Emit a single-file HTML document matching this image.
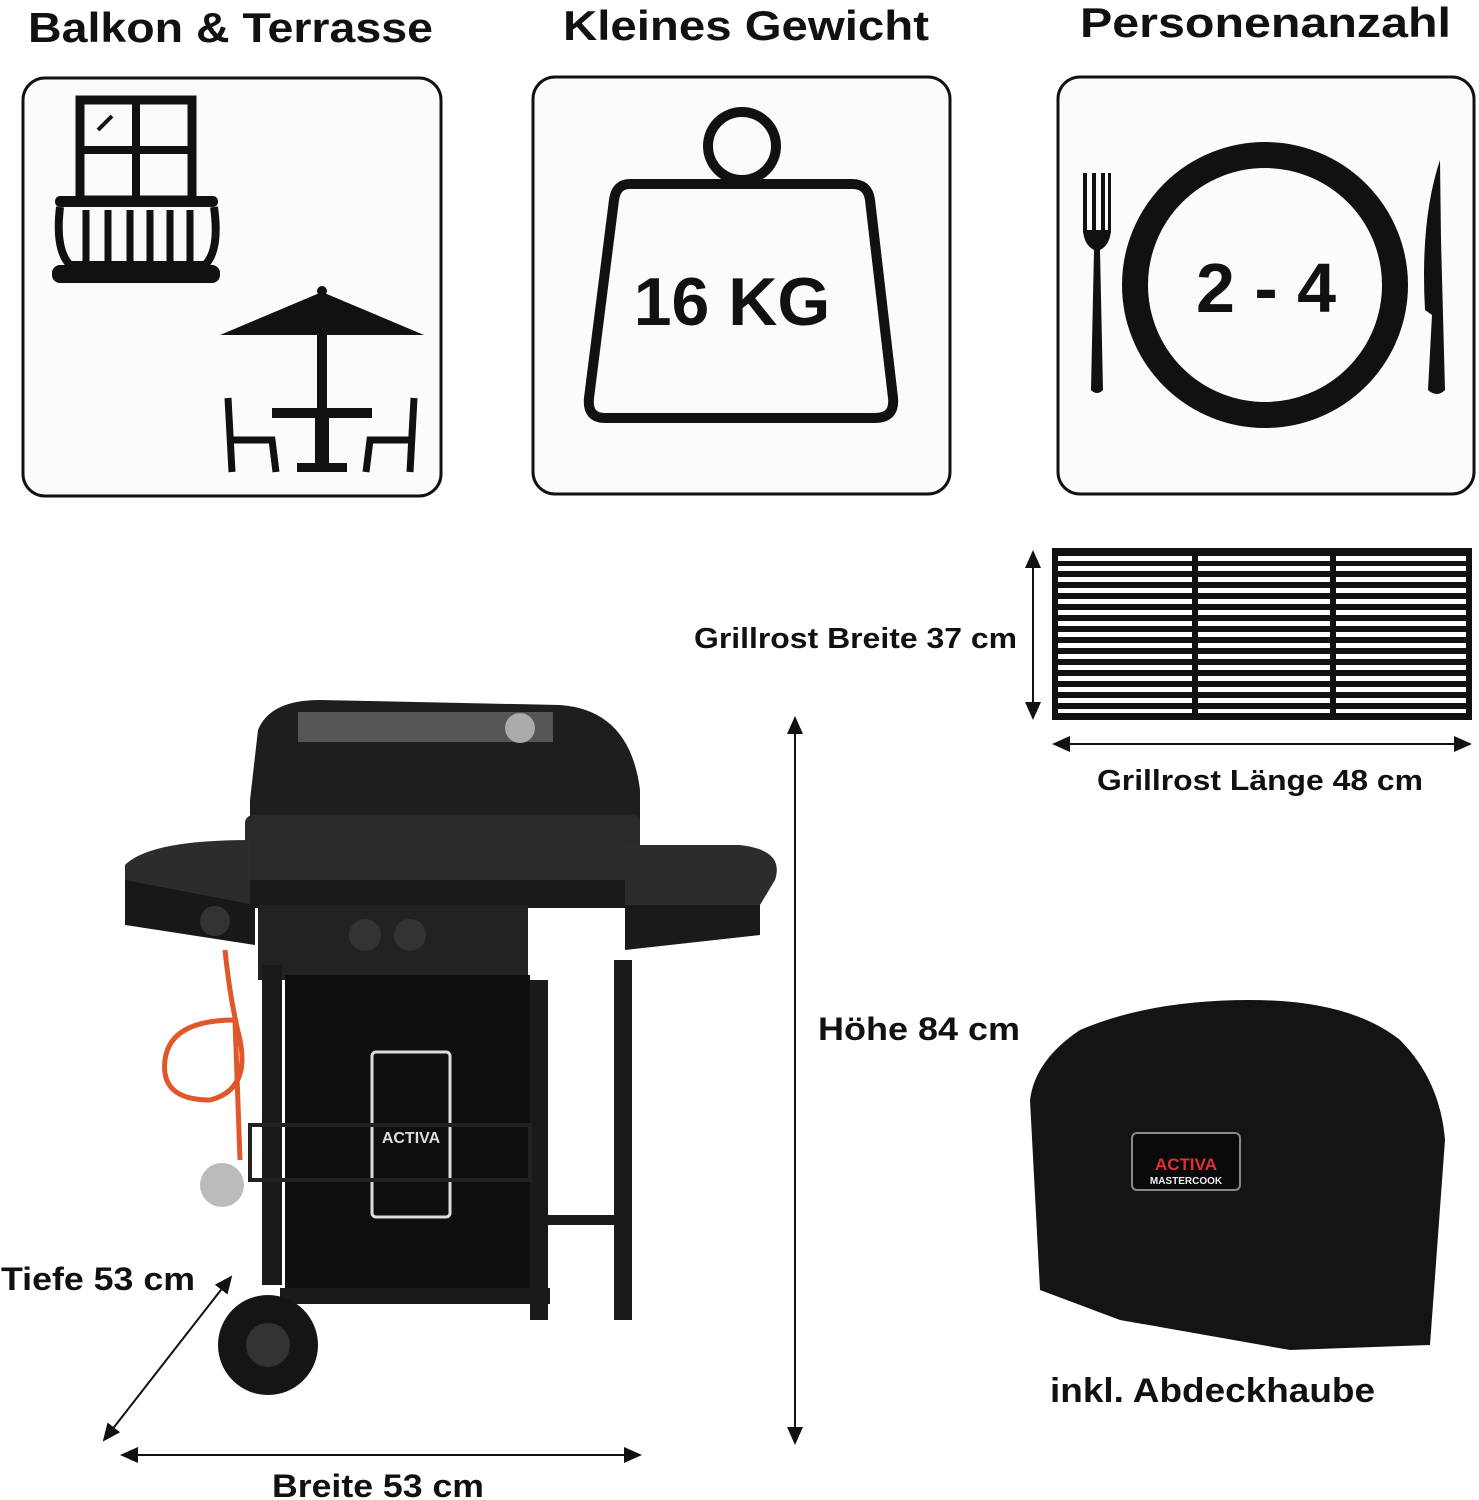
<!DOCTYPE html>
<html><head><meta charset="utf-8"><style>
body{margin:0;background:#fff}
svg{display:block}
text{font-family:"Liberation Sans",sans-serif;font-weight:bold;fill:#111}
</style></head><body>
<svg width="1479" height="1500" viewBox="0 0 1479 1500" xmlns="http://www.w3.org/2000/svg">
<defs>
<marker id="ar" markerWidth="10" markerHeight="10" refX="8" refY="5" orient="auto-start-reverse"><path d="M0,1 L9,5 L0,9 z" fill="#111"/></marker>
</defs>
<rect width="1479" height="1500" fill="#fff"/>
<!-- titles -->
<text x="28" y="42" font-size="42" textLength="405" lengthAdjust="spacingAndGlyphs">Balkon &amp; Terrasse</text>
<text x="563" y="40" font-size="42" textLength="366" lengthAdjust="spacingAndGlyphs">Kleines Gewicht</text>
<text x="1080" y="37" font-size="42" textLength="371" lengthAdjust="spacingAndGlyphs">Personenanzahl</text>
<!-- boxes -->
<rect x="23" y="78" width="418" height="418" rx="22" fill="#fdfafa" stroke="#111" stroke-width="3"/>
<rect x="533" y="77" width="417" height="417" rx="22" fill="#fdfafa" stroke="#111" stroke-width="3"/>
<rect x="1058" y="77" width="416" height="417" rx="22" fill="#fdfafa" stroke="#111" stroke-width="3"/>
<!-- balcony -->
<rect x="80" y="100" width="112" height="100" fill="none" stroke="#111" stroke-width="9"/>
<line x1="136" y1="100" x2="136" y2="200" stroke="#111" stroke-width="8"/>
<line x1="80" y1="150" x2="192" y2="150" stroke="#111" stroke-width="8"/>
<line x1="98" y1="130" x2="112" y2="116" stroke="#111" stroke-width="4"/>
<rect x="55" y="196" width="163" height="11" rx="5" fill="#111"/>
<path d="M60 207 Q55 250 70 265 L205 265 Q220 250 214 207" fill="none" stroke="#111" stroke-width="8"/>
<g stroke="#111" stroke-width="7"><line x1="86" y1="210" x2="86" y2="262"/><line x1="108" y1="210" x2="108" y2="262"/><line x1="130" y1="210" x2="130" y2="262"/><line x1="150" y1="210" x2="150" y2="262"/><line x1="170" y1="210" x2="170" y2="262"/><line x1="190" y1="210" x2="190" y2="262"/></g>
<rect x="52" y="265" width="168" height="18" rx="8" fill="#111"/>
<!-- umbrella table -->
<path d="M220 335 L322 292 L424 335 Z" fill="#111"/>
<circle cx="322" cy="291" r="5" fill="#111"/>
<rect x="317" y="335" width="10" height="75" fill="#111"/>
<rect x="272" y="408" width="100" height="10" fill="#111"/>
<rect x="315" y="418" width="14" height="50" fill="#111"/>
<rect x="297" y="463" width="50" height="9" fill="#111"/>
<g stroke="#111" stroke-width="7" fill="none"><path d="M228 398 L232 472 M232 440 L272 440 L276 472"/><path d="M414 398 L410 472 M410 440 L370 440 L366 472"/></g>
<!-- weight -->
<circle cx="742" cy="146" r="34" fill="none" stroke="#111" stroke-width="10"/>
<path d="M630 184 L852 184 Q868 184 870 200 L893 398 Q895 418 875 418 L605 418 Q587 418 589 398 L614 200 Q616 184 630 184 Z" fill="none" stroke="#111" stroke-width="10"/>
<text x="732" y="325" font-size="68" text-anchor="middle">16 KG</text>
<!-- plate -->
<circle cx="1265" cy="285" r="130" fill="none" stroke="#111" stroke-width="26"/>
<text x="1266" y="312" font-size="70" text-anchor="middle">2 - 4</text>
<g fill="#111"><rect x="1083" y="173" width="4" height="60"/><rect x="1092" y="173" width="4" height="60"/><rect x="1101" y="173" width="4" height="60"/><rect x="1108" y="173" width="3" height="60"/>
<path d="M1083 230 L1111 230 Q1110 245 1100 250 L1103 390 Q1097 396 1091 390 L1094 250 Q1084 245 1083 230Z"/>
<path d="M1440 160 Q1420 220 1425 310 L1432 315 L1428 390 Q1437 398 1445 390 L1441 240 Z"/></g>
<!-- grate -->
<rect x="1052" y="548" width="420" height="172" fill="#111"/>
<g fill="#fff">
<rect x="1058" y="556" width="408" height="5"/><rect x="1058" y="566" width="408" height="5"/><rect x="1058" y="577" width="408" height="5"/><rect x="1058" y="588" width="408" height="5"/><rect x="1058" y="599" width="408" height="5"/><rect x="1058" y="610" width="408" height="5"/><rect x="1058" y="621" width="408" height="5"/><rect x="1058" y="632" width="408" height="5"/><rect x="1058" y="643" width="408" height="5"/><rect x="1058" y="654" width="408" height="5"/><rect x="1058" y="665" width="408" height="5"/><rect x="1058" y="676" width="408" height="5"/><rect x="1058" y="687" width="408" height="5"/><rect x="1058" y="698" width="408" height="5"/><rect x="1058" y="709" width="408" height="4"/>
</g>
<rect x="1192" y="548" width="6" height="172" fill="#111"/><rect x="1330" y="548" width="6" height="172" fill="#111"/>
<line x1="1033" y1="552" x2="1033" y2="718" stroke="#111" stroke-width="2" marker-start="url(#ar)" marker-end="url(#ar)"/>
<line x1="1054" y1="744" x2="1470" y2="744" stroke="#111" stroke-width="2" marker-start="url(#ar)" marker-end="url(#ar)"/>
<text x="694" y="648" font-size="29" textLength="323" lengthAdjust="spacingAndGlyphs">Grillrost Breite 37 cm</text>
<text x="1097" y="790" font-size="29" textLength="326" lengthAdjust="spacingAndGlyphs">Grillrost Länge 48 cm</text>
<!-- dimension arrows -->
<line x1="795" y1="718" x2="795" y2="1443" stroke="#111" stroke-width="2" marker-start="url(#ar)" marker-end="url(#ar)"/>
<text x="818" y="1040" font-size="32" textLength="202" lengthAdjust="spacingAndGlyphs">Höhe 84 cm</text>
<line x1="122" y1="1455" x2="640" y2="1455" stroke="#111" stroke-width="2" marker-start="url(#ar)" marker-end="url(#ar)"/>
<text x="272" y="1497" font-size="32" textLength="212" lengthAdjust="spacingAndGlyphs">Breite 53 cm</text>
<line x1="231" y1="1277" x2="104" y2="1440" stroke="#111" stroke-width="2" marker-start="url(#ar)" marker-end="url(#ar)"/>
<text x="1" y="1290" font-size="32" textLength="194" lengthAdjust="spacingAndGlyphs">Tiefe 53 cm</text>
<!-- grill -->
<g fill="#1e1e1e">
<path d="M258 730 Q270 700 320 700 L560 705 Q630 710 640 790 L640 880 L250 880 L250 800 Z"/>
<rect x="245" y="815" width="395" height="70" rx="8" fill="#2a2a2a"/>
<rect x="250" y="880" width="380" height="28" fill="#1a1a1a"/>
<path d="M125 865 Q150 840 250 840 L250 905 L125 885 Z" fill="#2c2c2c"/>
<path d="M625 845 L740 845 Q785 850 775 880 L760 905 L625 905 Z" fill="#2c2c2c"/>
<path d="M125 880 L255 905 L255 945 L125 925 Z" fill="#181818"/>
<path d="M625 905 L760 905 L760 935 L625 950 Z" fill="#1a1a1a"/>
<rect x="258" y="905" width="270" height="75" fill="#222"/>
<rect x="262" y="965" width="20" height="320" fill="#1a1a1a"/>
<rect x="285" y="975" width="245" height="320" fill="#0f0f0f"/>
<rect x="530" y="980" width="18" height="340" fill="#1a1a1a"/>
<rect x="614" y="960" width="18" height="360" fill="#1a1a1a"/>
<rect x="280" y="1288" width="270" height="16" fill="#1a1a1a"/>
<rect x="548" y="1215" width="70" height="10" fill="#1a1a1a"/>
<circle cx="268" cy="1345" r="50" fill="#151515"/>
</g>
<rect x="298" y="712" width="255" height="30" fill="#555"/>
<circle cx="520" cy="728" r="15" fill="#aaa"/>
<circle cx="268" cy="1345" r="22" fill="#333"/>
<rect x="372" y="1052" width="78" height="165" rx="4" fill="none" stroke="#ddd" stroke-width="3"/>
<text x="411" y="1143" font-size="16" text-anchor="middle" style="fill:#ddd">ACTIVA</text>
<circle cx="215" cy="921" r="15" fill="#333"/><circle cx="365" cy="935" r="16" fill="#333"/><circle cx="410" cy="935" r="16" fill="#333"/>
<path d="M225 950 Q230 1000 240 1040 Q250 1090 210 1100 Q160 1100 165 1060 Q170 1020 235 1020 L240 1160" fill="none" stroke="#e0582a" stroke-width="5"/>
<circle cx="222" cy="1185" r="22" fill="#bbb"/>
<rect x="250" y="1125" width="280" height="55" fill="none" stroke="#222" stroke-width="4"/>
<!-- cover -->
<path d="M1080 1030 Q1150 1000 1250 1000 Q1350 1000 1400 1040 Q1440 1080 1445 1140 L1430 1345 L1290 1350 L1120 1320 L1040 1290 L1030 1100 Q1035 1060 1080 1030 Z" fill="#141414"/>
<rect x="1132" y="1133" width="108" height="57" rx="5" fill="#0a0a0a" stroke="#888" stroke-width="2"/>
<text x="1186" y="1170" font-size="17" text-anchor="middle" style="fill:#e03030">ACTIVA</text>
<text x="1186" y="1184" font-size="10" text-anchor="middle" style="fill:#eee">MASTERCOOK</text>
<text x="1050" y="1402" font-size="34" textLength="325" lengthAdjust="spacingAndGlyphs">inkl. Abdeckhaube</text>
</svg>
</body></html>
